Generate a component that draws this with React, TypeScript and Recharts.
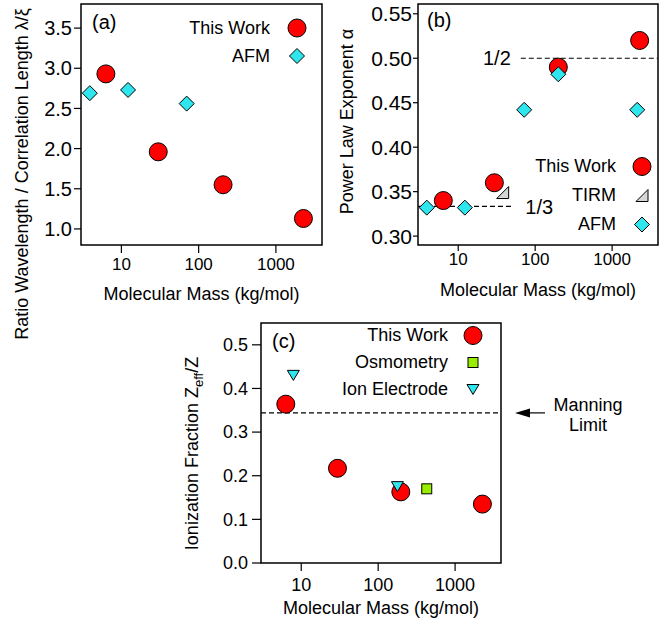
import React from "react";
import { ScatterChart, Scatter, XAxis, YAxis, ReferenceArea, ReferenceLine, Legend } from "recharts";

const FONT = "'Liberation Sans', Arial, sans-serif";
const RED = "#ff0000";
const CYAN = "#2fe6ee";
const LIME = "#99ee00";
const GREY = "#d6d6d6";

// molecular mass axis, shared by the three panels (log scale)
const MASS_DOMAIN = [3, 3950];
const MASS_TICKS = [10, 100, 1000];

// (a) ratio wavelength / correlation length
const aWorkMass = [6.3, 30, 207, 2270];
const aWorkRatio = [2.93, 1.96, 1.55, 1.13];
const aAfmMass = [3.9, 12.2, 70];
const aAfmRatio = [2.69, 2.73, 2.56];
const aTicks = [1, 1.5, 2, 2.5, 3, 3.5];

// (b) power law exponent
const bWorkMass = [6.4, 29.5, 200, 2280];
const bWorkAlpha = [0.34, 0.36, 0.49, 0.52];
const bTirmMass = [37.8];
const bTirmAlpha = [0.349];
const bAfmMass = [3.9, 12.2, 72, 200, 2120];
const bAfmAlpha = [0.332, 0.332, 0.442, 0.482, 0.442];
const bTicks = [0.3, 0.35, 0.4, 0.45, 0.5, 0.55];

// (c) ionization fraction
const cWorkMass = [6.3, 29.6, 197, 2265];
const cWorkFrac = [0.364, 0.217, 0.163, 0.135];
const cOsmoMass = [428];
const cOsmoFrac = [0.17];
const cIonMass = [7.9, 178];
const cIonFrac = [0.43, 0.175];
const cTicks = [0, 0.1, 0.2, 0.3, 0.4, 0.5];
const MANNING = 0.344;

const pts = (xs: number[], ys: number[]) => xs.map((x, i) => ({ x, y: ys[i] }));

const marks: Record<string, (x: number, y: number) => React.ReactElement> = {
  "This Work": (x, y) => <circle cx={x} cy={y} r={9} fill={RED} stroke="#000" />,
  AFM: (x, y) => (
    <polygon points={`${x},${y - 7.5} ${x + 7.5},${y} ${x},${y + 7.5} ${x - 7.5},${y}`} fill={CYAN} stroke="#000" />
  ),
  TIRM: (x, y) => (
    <polygon points={`${x - 6},${y + 6} ${x + 6},${y + 6} ${x + 6},${y - 6}`} fill={GREY} stroke="#000" />
  ),
  Osmometry: (x, y) => <rect x={x - 5} y={y - 5} width={10} height={10} fill={LIME} stroke="#000" />,
  "Ion Electrode": (x, y) => (
    <polygon points={`${x - 6},${y - 5} ${x + 6},${y - 5} ${x},${y + 5}`} fill={CYAN} stroke="#000" />
  ),
};
const shapeOf = (name: string) => (p: any) => marks[name](p.cx, p.cy);

// recharts sorts legend items by name, keep the series order instead
function Key({ payload, order, rowH, gap }: any) {
  const items = [...(payload || [])].sort((a: any, b: any) => order.indexOf(a.value) - order.indexOf(b.value));
  return (
    <div style={{ fontFamily: FONT, fontSize: 18, color: "#000" }}>
      {items.map((e: any) => (
        <div key={e.value} style={{ display: "flex", justifyContent: "flex-end", alignItems: "center", height: rowH, whiteSpace: "nowrap" }}>
          <span>{e.value}</span>
          <svg width={22} height={rowH} style={{ marginLeft: gap, overflow: "visible" }}>
            {marks[e.value](11, rowH / 2)}
          </svg>
        </div>
      ))}
    </div>
  );
}

const yTitle = (bx: number, cy: number, body: React.ReactNode) => () => (
  <text x={bx} y={cy} transform={`rotate(-90 ${bx} ${cy})`} textAnchor="middle" fontSize={18} fill="#000" fontFamily={FONT}>
    {body}
  </text>
);

const manningNote = (props: any) => {
  const { x, y, width } = props.viewBox;
  const r = x + width;
  return (
    <g fontFamily={FONT} fontSize={18} fill="#000">
      <line x1={r + 28} x2={r + 44} y1={y} y2={y} stroke="#000" strokeWidth={1.2} />
      <polygon points={`${r + 14},${y} ${r + 29},${y - 4.5} ${r + 29},${y + 4.5}`} fill="#000" />
      <text x={r + 87} y={y - 2} textAnchor="middle">Manning</text>
      <text x={r + 87} y={y + 18} textAnchor="middle">Limit</text>
    </g>
  );
};

const tickText = (size: number) => ({ fill: "#000", fontSize: size, fontFamily: FONT });

function massAxis(tickSize: number, tickMargin: number, labelOffset: number, fontSize: number) {
  return (
    <XAxis
      type="number"
      dataKey="x"
      scale="log"
      domain={MASS_DOMAIN}
      ticks={MASS_TICKS}
      allowDataOverflow
      interval={0}
      height={60}
      axisLine={false}
      tickLine={{ stroke: "#000", strokeWidth: 1.2 }}
      tickSize={tickSize}
      tickMargin={tickMargin}
      fontSize={fontSize}
      tick={tickText(fontSize)}
      label={{ value: "Molecular Mass (kg/mol)", position: "insideBottom", offset: labelOffset, fontSize: 18, fill: "#000", fontFamily: FONT }}
    />
  );
}

function frame(y1: number, y2: number, letter: string, offset: number) {
  return (
    <ReferenceArea
      x1={MASS_DOMAIN[0]}
      x2={MASS_DOMAIN[1]}
      y1={y1}
      y2={y2}
      fill="none"
      fillOpacity={0}
      stroke="#000"
      strokeWidth={1.5}
      label={{ value: letter, position: "insideTopLeft", offset, fontSize: 20, fill: "#000", fontFamily: FONT }}
    />
  );
}

function PanelA() {
  return (
    <ScatterChart width={340} height={350} margin={{ top: 4, right: 18, bottom: 45, left: 0 }} style={{ fontFamily: FONT }}>
      {massAxis(8, 5, 5, 17)}
      <YAxis
        type="number"
        dataKey="y"
        domain={[0.8, 3.8]}
        ticks={aTicks}
        allowDataOverflow
        width={81}
        axisLine={false}
        tickLine={{ stroke: "#000", strokeWidth: 1.2 }}
        tickSize={7}
        tickMargin={2}
        fontSize={20}
        tick={tickText(20)}
        tickFormatter={(v: number) => v.toFixed(1)}
        label={{ content: yTitle(28, 174, "Ratio Wavelength / Correlation Length λ/ξ") }}
      />
      {frame(0.8, 3.8, "(a)", 11)}
      <Scatter name="This Work" data={pts(aWorkMass, aWorkRatio)} fill={RED} shape={shapeOf("This Work")} isAnimationActive={false} />
      <Scatter name="AFM" data={pts(aAfmMass, aAfmRatio)} fill={CYAN} shape={shapeOf("AFM")} isAnimationActive={false} />
      <Legend
        layout="vertical"
        align="center"
        verticalAlign="middle"
        wrapperStyle={{ top: 14, right: 32, left: "auto", width: 250 }}
        content={(p: any) => <Key payload={p.payload} order={["This Work", "AFM"]} rowH={28} gap={16} />}
      />
    </ScatterChart>
  );
}

function PanelB() {
  return (
    <ScatterChart width={342} height={310} margin={{ top: 4, right: 14, bottom: 5, left: 0 }} style={{ fontFamily: FONT }}>
      {massAxis(6, 2, 9, 17)}
      <YAxis
        type="number"
        dataKey="y"
        domain={[0.29, 0.561]}
        ticks={bTicks}
        allowDataOverflow
        width={88}
        axisLine={false}
        tickLine={{ stroke: "#000", strokeWidth: 1.2 }}
        tickSize={5}
        tickMargin={1}
        fontSize={21}
        tick={tickText(21)}
        tickFormatter={(v: number) => v.toFixed(2)}
        label={{ content: yTitle(23, 121.5, "Power Law Exponent α") }}
      />
      {frame(0.29, 0.561, "(b)", 9)}
      <ReferenceLine
        segment={[{ x: 65, y: 0.5 }, { x: MASS_DOMAIN[1], y: 0.5 }]}
        stroke="#000"
        strokeWidth={1.2}
        strokeDasharray="5 3"
        label={{ value: "1/2", position: "left", offset: 10, fontSize: 20, fill: "#000", fontFamily: FONT }}
      />
      <ReferenceLine
        segment={[{ x: MASS_DOMAIN[0], y: 1 / 3 }, { x: 52, y: 1 / 3 }]}
        stroke="#000"
        strokeWidth={1.2}
        strokeDasharray="5 3"
        label={{ value: "1/3", position: "right", offset: 12, fontSize: 20, fill: "#000", fontFamily: FONT }}
      />
      <Scatter name="This Work" data={pts(bWorkMass, bWorkAlpha)} fill={RED} shape={shapeOf("This Work")} isAnimationActive={false} />
      <Scatter name="TIRM" data={pts(bTirmMass, bTirmAlpha)} fill={GREY} shape={shapeOf("TIRM")} isAnimationActive={false} />
      <Scatter name="AFM" data={pts(bAfmMass, bAfmAlpha)} fill={CYAN} shape={shapeOf("AFM")} isAnimationActive={false} />
      <Legend
        layout="vertical"
        align="center"
        verticalAlign="middle"
        wrapperStyle={{ top: 152, right: 19, left: "auto", width: 250 }}
        content={(p: any) => <Key payload={p.payload} order={["This Work", "TIRM", "AFM"]} rowH={29} gap={15} />}
      />
    </ScatterChart>
  );
}

function PanelC() {
  return (
    <ScatterChart width={512} height={326} margin={{ top: 23, right: 171, bottom: 3, left: 0 }} style={{ fontFamily: FONT }}>
      {massAxis(8, 7, 9, 18)}
      <YAxis
        type="number"
        dataKey="y"
        domain={[0, 0.55]}
        ticks={cTicks}
        allowDataOverflow
        width={101}
        axisLine={false}
        tickLine={{ stroke: "#000", strokeWidth: 1.2 }}
        tickSize={9}
        tickMargin={4}
        fontSize={18}
        tick={tickText(18)}
        tickFormatter={(v: number) => v.toFixed(1)}
        label={{
          content: yTitle(
            38,
            153.5,
            <>
              Ionization Fraction Z<tspan fontSize={13} dy={5}>eff</tspan>
              <tspan dy={-5}>/Z</tspan>
            </>
          ),
        }}
      />
      {frame(0, 0.55, "(c)", 11)}
      <ReferenceLine y={MANNING} stroke="#000" strokeWidth={1.2} strokeDasharray="5 3" label={{ content: manningNote }} />
      <Scatter name="This Work" data={pts(cWorkMass, cWorkFrac)} fill={RED} shape={shapeOf("This Work")} isAnimationActive={false} />
      <Scatter name="Osmometry" data={pts(cOsmoMass, cOsmoFrac)} fill={LIME} shape={shapeOf("Osmometry")} isAnimationActive={false} />
      <Scatter name="Ion Electrode" data={pts(cIonMass, cIonFrac)} fill={CYAN} shape={shapeOf("Ion Electrode")} isAnimationActive={false} />
      <Legend
        layout="vertical"
        align="center"
        verticalAlign="middle"
        wrapperStyle={{ top: 22, right: 188, left: "auto", width: 250 }}
        content={(p: any) => <Key payload={p.payload} order={["This Work", "Osmometry", "Ion Electrode"]} rowH={27} gap={14} />}
      />
    </ScatterChart>
  );
}

export default function App() {
  return (
    <div style={{ position: "absolute", left: 0, top: 0, width: 672, height: 626, background: "#fff", fontFamily: FONT }}>
      <div style={{ position: "absolute", left: 0, top: 0 }}>
        <PanelA />
      </div>
      <div style={{ position: "absolute", left: 330, top: 0 }}>
        <PanelB />
      </div>
      <div style={{ position: "absolute", left: 160, top: 300 }}>
        <PanelC />
      </div>
    </div>
  );
}
